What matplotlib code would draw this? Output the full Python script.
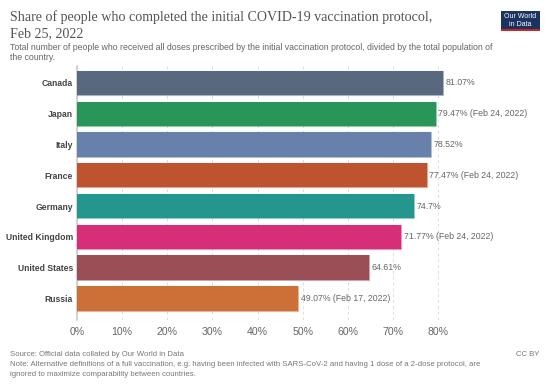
import matplotlib.pyplot as plt
from matplotlib.patches import Rectangle
from matplotlib.ticker import FuncFormatter

countries = ['Canada', 'Japan', 'Italy', 'France', 'Germany',
             'United Kingdom', 'United States', 'Russia']
values = [81.07, 79.47, 78.52, 77.47, 74.7, 71.77, 64.61, 49.07]
value_labels = ['81.07%', '79.47% (Feb 24, 2022)', '78.52%', '77.47% (Feb 24, 2022)',
                '74.7%', '71.77% (Feb 24, 2022)', '64.61%', '49.07% (Feb 17, 2022)']
colors = ['#58687e', '#2a9558', '#6781ab', '#bd532f', '#24968e',
          '#d62f78', '#9a4f56', '#cc7038']

plt.rcParams['font.family'] = ['Liberation Sans', 'DejaVu Sans']

fig = plt.figure(figsize=(5.5, 3.87), dpi=100)
W, H = 550, 387
# axes: 0% at x=77, 80% at x=438; bars from y=71 to 314
ax = fig.add_axes([77 / W, 1 - 320 / H, (438 - 77) / 80 * 90 / W, (320 - 66) / H])

y = list(range(len(countries)))
ax.barh(y, values, height=0.79, color=colors, linewidth=0.0, zorder=3)
for yi, v, c in zip(y, values, colors):
    ax.barh(yi, v, height=0.79, color='none', edgecolor=c, linewidth=0.8, alpha=0.5, zorder=4)
for yi, v, lab in zip(y, values, value_labels):
    ax.text(v + 0.6, yi, lab, va='center', ha='left', fontsize=6.3, color='#666666', zorder=5)

ax.set_xlim(0, 90)
ax.set_ylim(len(countries) - 0.5 + 0.2, -0.5 - 0.05)
ax.set_yticks(y)
ax.set_yticklabels(countries, fontsize=6.2, fontweight='bold', color='#444444')
ax.set_xticks(range(0, 90, 10))
ax.xaxis.set_major_formatter(FuncFormatter(lambda x, p: f'{int(x)}%'))
ax.tick_params(axis='x', labelsize=7.6, labelcolor='#666666', length=0, pad=5)
ax.tick_params(axis='y', length=0, pad=3)
ax.grid(axis='x', color='#dddddd', linestyle=(0, (3, 3)), linewidth=0.7, zorder=0)
for s in ['top', 'right', 'bottom']:
    ax.spines[s].set_visible(False)
ax.spines['left'].set_color('#cccccc')
ax.spines['left'].set_linewidth(1.2)

# title block
serif = ['Liberation Serif', 'DejaVu Serif']
fig.text(10 / W, 1 - 17 / H, 'Share of people who completed the initial COVID-19 vaccination protocol,',
         fontsize=10.1, family=serif, color='#555555', va='center')
fig.text(10 / W, 1 - 34 / H, 'Feb 25, 2022',
         fontsize=10.1, family=serif, color='#555555', va='center')
fig.text(10 / W, 1 - 48 / H, 'Total number of people who received all doses prescribed by the initial vaccination protocol, divided by the total population of',
         fontsize=6.3, color='#666666', va='center')
fig.text(10 / W, 1 - 58 / H, 'the country.', fontsize=6.3, color='#666666', va='center')

# logo
fig.patches.append(Rectangle((501 / W, 1 - 29 / H), 39 / W, 18 / H, transform=fig.transFigure,
                             facecolor='#1a3360', edgecolor='none'))
fig.patches.append(Rectangle((501 / W, 1 - 31 / H), 39 / W, 2 / H, transform=fig.transFigure,
                             facecolor='#ce261e', edgecolor='none'))
fig.text(520.5 / W, 1 - 16 / H, 'Our World', fontsize=5.0, color='white', ha='center', va='center')
fig.text(520.5 / W, 1 - 24 / H, 'in Data', fontsize=5.0, color='white', ha='center', va='center')

# footer
fig.text(10 / W, 1 - 354 / H, 'Source: Official data collated by Our World in Data',
         fontsize=5.6, color='#777777', va='center')
fig.text(10 / W, 1 - 364 / H, 'Note: Alternative definitions of a full vaccination, e.g. having been infected with SARS-CoV-2 and having 1 dose of a 2-dose protocol, are',
         fontsize=5.6, color='#777777', va='center')
fig.text(10 / W, 1 - 374 / H, 'ignored to maximize comparability between countries.',
         fontsize=5.6, color='#777777', va='center')
fig.text(540 / W, 1 - 354 / H, 'CC BY', fontsize=5.6, color='#777777', va='center', ha='right')

fig.savefig('out.png', dpi=100)
